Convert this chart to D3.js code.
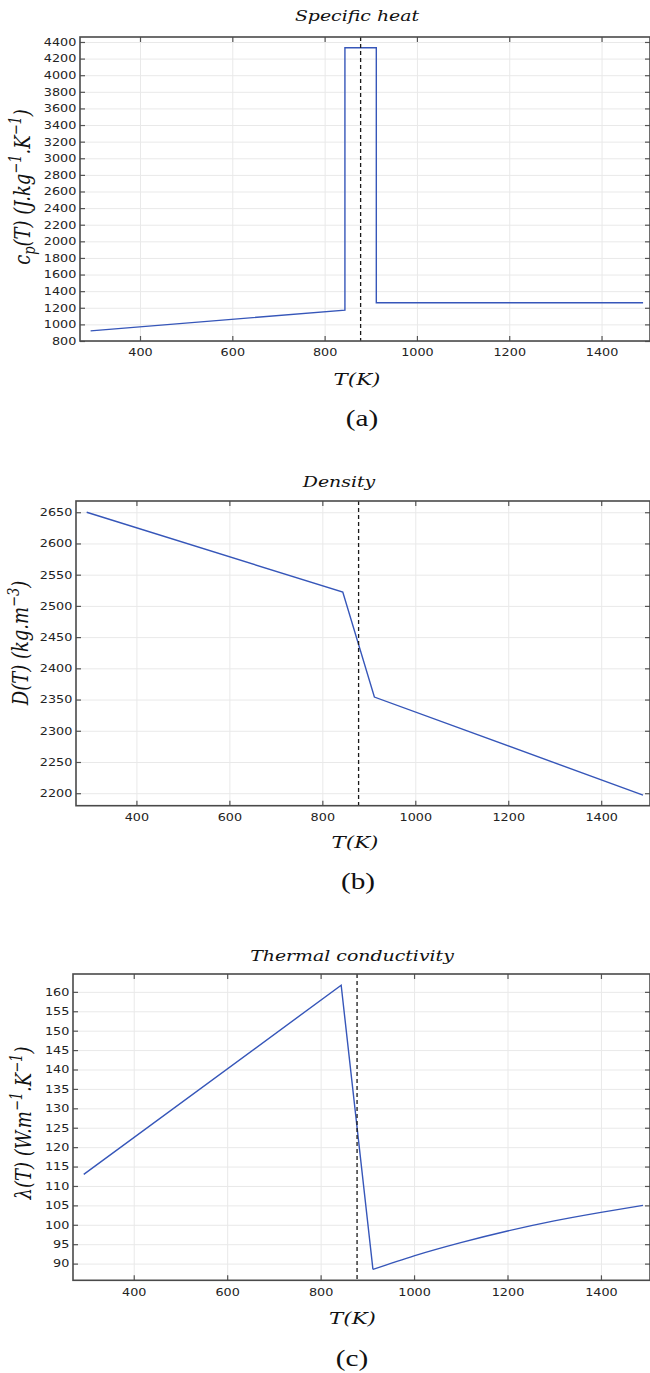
<!DOCTYPE html>
<html>
<head>
<meta charset="utf-8">
<script src="https://cdn.jsdelivr.net/npm/d3@7"></script>
<style>
  body { margin: 0; background: #fff; }
  svg { display: block; }
</style>
</head>
<body>
<svg id="fig" width="650" height="1373"></svg>
<script>
// temperature axis (K)
var tempTicks = [400, 600, 800, 1000, 1200, 1400];
var tempDomain = [270, 1505];
var transitionT = 878;

// (a) specific heat
var cpT   = [293, 844, 844, 912, 912, 1490];
var cpVal = [922, 1172, 4330, 4330, 1260, 1260];
var cpTicks = [800, 1000, 1200, 1400, 1600, 1800, 2000, 2200, 2400, 2600, 2800,
               3000, 3200, 3400, 3600, 3800, 4000, 4200, 4400];

// (b) density
var densT   = [293, 844, 912, 1490];
var densVal = [2650, 2522, 2354, 2197];
var densTicks = [2200, 2250, 2300, 2350, 2400, 2450, 2500, 2550, 2600, 2650];

// (c) thermal conductivity
var condT   = [293, 844, 912, 1000, 1100, 1200, 1300, 1400, 1490];
var condVal = [113, 161.7, 88.5, 92.0, 95.4, 98.4, 101.0, 103.2, 105.0];
var condTicks = [90, 95, 100, 105, 110, 115, 120, 125, 130, 135, 140, 145, 150, 155, 160];

var SX = 1.22; // the source figure is stretched horizontally
var svg = d3.select('#fig');

var panels = [
  { title: 'Specific heat', titleX: 357, titleY: 21,
    T: cpT, v: cpVal, ticks: cpTicks, yDomain: [800, 4460],
    top: 37, bottom: 341, left: 80, right: 650,
    ylab: [{t: 'c'}, {t: 'p', sub: true}, {t: '(T) (J.kg'}, {t: '\u22121', sup: true},
           {t: '.K'}, {t: '\u22121', sup: true}, {t: ')'}],
    ylabX: 30, ylabY: 187,
    xlabX: 357, xlabY: 385, tag: '(a)', tagX: 362, tagY: 426 },
  { title: 'Density', titleX: 339, titleY: 487,
    T: densT, v: densVal, ticks: densTicks, yDomain: [2180, 2668],
    top: 501, bottom: 805.7, left: 76, right: 650,
    ylab: [{t: 'D(T) (kg.m'}, {t: '\u22123', sup: true}, {t: ')'}],
    ylabX: 28, ylabY: 643,
    xlabX: 355, xlabY: 848, tag: '(b)', tagX: 358, tagY: 889 },
  { title: 'Thermal conductivity', titleX: 352, titleY: 961,
    T: condT, v: condVal, ticks: condTicks, yDomain: [85.7, 164.6],
    top: 974, bottom: 1280.3, left: 73, right: 650,
    smoothFrom: 2,
    ylab: [{t: '\u03bb(T) (W.m'}, {t: '\u22121', sup: true}, {t: '.K'}, {t: '\u22121', sup: true}, {t: ')'}],
    ylabX: 31, ylabY: 1123,
    xlabX: 352.5, xlabY: 1324, tag: '(c)', tagX: 352, tagY: 1366 }
];

function serifText(x, y, size, italic) {
  return svg.append('text')
    .attr('transform', 'translate(' + x + ',' + y + ') scale(' + SX + ',1)')
    .attr('text-anchor', 'middle')
    .style('font-family', '"DejaVu Serif", serif')
    .style('font-style', italic ? 'italic' : 'normal')
    .style('font-size', size + 'px')
    .attr('fill', '#111');
}

panels.forEach(function(p) {
  var x = d3.scaleLinear().domain(tempDomain).range([p.left, p.right]);
  var y = d3.scaleLinear().domain(p.yDomain).range([p.bottom, p.top]);
  var w = p.right - p.left, h = p.bottom - p.top;

  var g = svg.append('g');

  // grid
  g.append('g')
    .attr('transform', 'translate(0,' + p.bottom + ')')
    .call(d3.axisBottom(x).tickValues(tempTicks).tickSize(-h).tickFormat(''))
    .call(function(s) { s.select('.domain').remove(); s.selectAll('line').attr('stroke', '#e9e9e9'); });
  g.append('g')
    .attr('transform', 'translate(' + p.left + ',0)')
    .call(d3.axisLeft(y).tickValues(p.ticks).tickSize(-w).tickFormat(''))
    .call(function(s) { s.select('.domain').remove(); s.selectAll('line').attr('stroke', '#e9e9e9'); });

  // data line: straight pieces, then a smooth tail where the curve bends
  var pts = p.T.map(function(t, i) { return [t, p.v[i]]; });
  var straight = d3.line().x(function(d) { return x(d[0]); }).y(function(d) { return y(d[1]); });
  var smooth = d3.line().x(function(d) { return x(d[0]); }).y(function(d) { return y(d[1]); })
    .curve(d3.curveMonotoneX);
  var cut = p.smoothFrom == null ? pts.length : p.smoothFrom + 1;
  g.append('path')
    .datum(pts.slice(0, cut))
    .attr('d', straight)
    .attr('fill', 'none')
    .attr('stroke', '#3656b9')
    .attr('stroke-width', 1.4);
  if (p.smoothFrom != null) {
    g.append('path')
      .datum(pts.slice(p.smoothFrom))
      .attr('d', smooth)
      .attr('fill', 'none')
      .attr('stroke', '#3656b9')
      .attr('stroke-width', 1.4);
  }

  // transition temperature
  g.append('line')
    .attr('x1', x(transitionT)).attr('x2', x(transitionT))
    .attr('y1', p.top).attr('y2', p.bottom)
    .attr('stroke', '#1a1a1a')
    .attr('stroke-width', 1.3)
    .attr('stroke-dasharray', '4,3');

  // axes with inward ticks
  function styleAxis(s) {
    s.select('.domain').remove();
    s.selectAll('line').attr('stroke', '#555').attr('stroke-width', 1.2);
    s.selectAll('text')
      .attr('fill', '#222')
      .style('font-family', '"DejaVu Sans", sans-serif')
      .style('font-size', '10.5px');
  }
  var fmt = d3.format('d');
  g.append('g')
    .attr('transform', 'translate(0,' + p.bottom + ')')
    .call(d3.axisBottom(x).tickValues(tempTicks).tickFormat(fmt).tickSizeInner(-5).tickSizeOuter(0).tickPadding(8))
    .call(styleAxis)
    .call(function(s) { s.selectAll('text').attr('transform', 'scale(' + SX + ',1)'); });
  g.append('g')
    .attr('transform', 'translate(' + p.left + ',0)')
    .call(d3.axisLeft(y).tickValues(p.ticks).tickFormat(fmt).tickSizeInner(-5).tickSizeOuter(0).tickPadding(3))
    .call(styleAxis)
    .call(function(s) { s.selectAll('text').attr('transform', 'scale(' + SX + ',1)'); });
  g.append('g')
    .attr('transform', 'translate(0,' + p.top + ')')
    .call(d3.axisTop(x).tickValues(tempTicks).tickSizeInner(-5).tickSizeOuter(0).tickFormat(''))
    .call(styleAxis);
  g.append('g')
    .attr('transform', 'translate(' + p.right + ',0)')
    .call(d3.axisRight(y).tickValues(p.ticks).tickSizeInner(-5).tickSizeOuter(0).tickFormat(''))
    .call(styleAxis);

  // frame
  g.append('rect')
    .attr('x', p.left).attr('y', p.top)
    .attr('width', w).attr('height', h)
    .attr('fill', 'none')
    .attr('stroke', '#4a4a4a')
    .attr('stroke-width', 1.6);

  // title
  serifText(p.titleX, p.titleY, 15.5, true).text(p.title);

  // x label
  serifText(p.xlabX, p.xlabY, 17.5, true).text('T(K)');

  // y label, rotated
  var yl = svg.append('text')
    .attr('transform', 'translate(' + p.ylabX + ',' + p.ylabY + ') scale(' + SX + ',1) rotate(-90)')
    .attr('text-anchor', 'middle')
    .style('font-family', '"DejaVu Serif", serif')
    .style('font-style', 'italic')
    .style('font-size', '18px')
    .attr('fill', '#111');
  var shift = 0;
  p.ylab.forEach(function(part) {
    var target = part.sup ? -7 : (part.sub ? 4 : 0);
    var ts = yl.append('tspan').attr('dy', target - shift).text(part.t);
    if (part.sup || part.sub) ts.style('font-size', '13px');
    shift = target;
  });

  // panel tag
  svg.append('text')
    .attr('transform', 'translate(' + p.tagX + ',' + p.tagY + ') scale(' + SX + ',1)')
    .attr('text-anchor', 'middle')
    .style('font-family', '"Liberation Serif", "Times New Roman", serif')
    .style('font-size', '24px')
    .attr('fill', '#111')
    .text(p.tag);
});
</script>
</body>
</html>
